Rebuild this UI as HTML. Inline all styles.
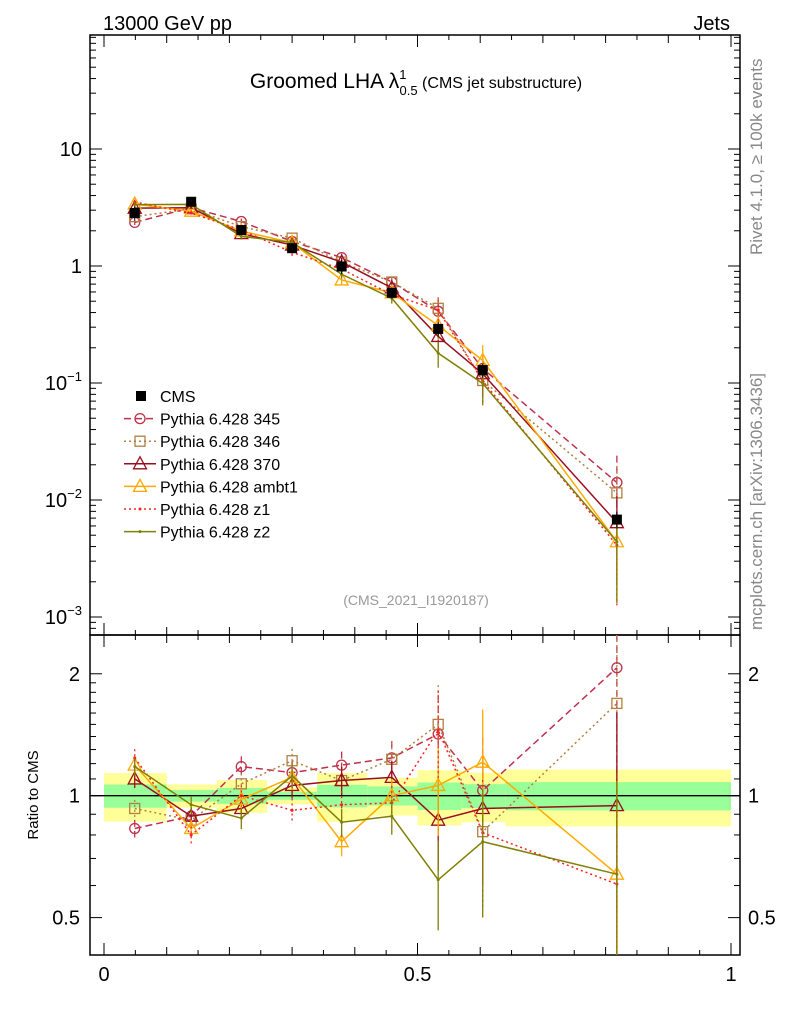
<!DOCTYPE html>
<html><head><meta charset="utf-8"><style>
body{margin:0;background:#fff;font-family:"Liberation Sans",sans-serif}
svg text{font-family:"Liberation Sans",sans-serif}
</style></head><body>
<svg id="c" width="786" height="1024" xmlns="http://www.w3.org/2000/svg">
<text x="103" y="30" font-size="20">13000 GeV pp</text>
<text x="730" y="30" font-size="20" text-anchor="end">Jets</text>
<text x="416" y="88" font-size="21" text-anchor="middle">Groomed LHA λ<tspan font-size="13" dy="-9">1</tspan><tspan font-size="13" dx="-7" dy="16">0.5</tspan><tspan font-size="16" dy="-7"> (CMS jet substructure)</tspan></text>
<text transform="translate(762,255) rotate(-90)" font-size="17" fill="#888">Rivet 4.1.0, ≥ 100k events</text>
<text transform="translate(762,630) rotate(-90)" font-size="17" fill="#888">mcplots.cern.ch [arXiv:1306.3436]</text>
<text x="416" y="605" font-size="14" fill="#999" text-anchor="middle">(CMS_2021_I1920187)</text>
<text transform="translate(38,795) rotate(-90)" font-size="15" text-anchor="middle">Ratio to CMS</text>
<g id="bands"></g><g id="axes"></g><g id="series"></g><g id="legend"></g>
</svg>
<script>
const xs=[0.049,0.139,0.219,0.300,0.379,0.459,0.533,0.604,0.818];
const edges=[0,0.1,0.18,0.26,0.34,0.42,0.5,0.57,0.64,1.0];
const cms=[2.84,3.54,2.03,1.42,0.99,0.59,0.29,0.129,0.0068];
const statErr=[0.066,0.033,0.045,0.023,0.064,0.054,0.078,0.068,0.08];
const totErr=[0.137,0.066,0.093,0.048,0.137,0.107,0.156,0.14,0.16];
const r345=[0.83,0.89,1.18,1.14,1.19,1.24,1.42,1.03,2.07];
const r346=[0.93,0.87,1.07,1.22,1.09,1.23,1.50,0.815,1.69];
const r370=[1.10,0.89,0.93,1.06,1.09,1.11,0.87,0.93,0.945];
const rambt1=[1.19,0.83,0.98,1.11,0.77,1.0,1.06,1.21,0.64];
const rz1=[1.24,0.80,1.0,0.92,0.95,0.96,1.45,0.81,0.605];
const rz2=[1.18,0.95,0.88,1.12,0.86,0.89,0.62,0.77,0.64];
const v345=[2.36,3.15,2.40,1.62,1.18,0.73,0.41,0.133,0.0141];
const v346=[2.64,3.08,2.17,1.73,1.08,0.73,0.435,0.105,0.0115];
const v370=[3.12,3.15,1.89,1.51,1.08,0.65,0.25,0.12,0.0064];
const vambt1=[3.38,2.94,1.99,1.58,0.76,0.59,0.31,0.156,0.0044];
const vz1=[3.52,2.83,2.03,1.31,0.94,0.57,0.42,0.104,0.0041];
const vz2=[3.35,3.36,1.79,1.59,0.85,0.53,0.18,0.099,0.0044];
const mcErr=[0.05,0.05,0.06,0.07,0.08,0.1,0.25,0.35,0.7];
const names=["Pythia 6.428 345","Pythia 6.428 346","Pythia 6.428 370","Pythia 6.428 ambt1","Pythia 6.428 z1","Pythia 6.428 z2"];

const NS="http://www.w3.org/2000/svg";
const L=90,R=740,T=35,M=635,B=955;
const X=v=>104+627*v;
const Y=v=>Math.min(M,266-117*Math.log10(v));
const YR=r=>Math.min(B,Math.max(M,795.7-405*Math.log10(r)));
function mk(tag,attrs,parent){const e=document.createElementNS(NS,tag);for(const k in attrs)e.setAttribute(k,attrs[k]);parent.appendChild(e);return e;}
const ax=document.getElementById('axes'),bd=document.getElementById('bands'),se=document.getElementById('series'),lg=document.getElementById('legend');

for(let i=0;i<9;i++){
  const x0=X(edges[i]),x1=Math.min(R,X(edges[i+1]));
  let e=mk('rect',{x:x0,y:YR(1+totErr[i]),width:x1-x0,height:YR(1-totErr[i])-YR(1+totErr[i]),fill:'#ffff99'},bd);
  
  
  e=mk('rect',{x:x0,y:YR(1+statErr[i]),width:x1-x0,height:YR(1-statErr[i])-YR(1+statErr[i]),fill:'#99ff99'},bd);
  
  
}
mk('line',{x1:L,x2:R,y1:YR(1),y2:YR(1),stroke:'#000','stroke-width':1.3},bd);

let f=mk('rect',{x:L,y:T,width:R-L,height:M-T,fill:'none',stroke:'#000','stroke-width':1.5},ax);


f=mk('rect',{x:L,y:M,width:R-L,height:B-M,fill:'none',stroke:'#000','stroke-width':1.5},ax);



const decades=[-3,-2,-1,0,1];
const decLabels=['10<tspan font-size="13" dy="-9">−3</tspan>','10<tspan font-size="13" dy="-9">−2</tspan>','10<tspan font-size="13" dy="-9">−1</tspan>','1','10'];
for(let d=-4;d<=1;d++){for(let m=1;m<10;m++){const v=m*Math.pow(10,d);const y=266-117*Math.log10(v);if(y<T||y>M)continue;const len=m==1?12:6;
 mk('line',{x1:L,x2:L+len,y1:y,y2:y,stroke:'#000'},ax);mk('line',{x1:R,x2:R-len,y1:y,y2:y,stroke:'#000'},ax);}}
decades.forEach((d,i)=>{const t=mk('text',{x:82,y:Y(Math.pow(10,d))+7,'font-size':20,'text-anchor':'end'},ax);t.innerHTML=decLabels[i];
 
 });
const rT=[0.5,0.6,0.7,0.8,0.9,1,1.1,1.2,1.3,1.4,1.5,1.6,1.7,1.8,1.9,2];
rT.forEach(r=>{const y=YR(r);const big=[0.5,1,2].includes(r);const len=big?12:6;
 mk('line',{x1:L,x2:L+len,y1:y,y2:y,stroke:'#000'},ax);mk('line',{x1:R,x2:R-len,y1:y,y2:y,stroke:'#000'},ax);
 if(big){const t=mk('text',{x:80,y:y+7,'font-size':20,'text-anchor':'end'},ax);t.textContent=r;
 
 
 const t2=mk('text',{x:748,y:y+7,'font-size':20},ax);t2.textContent=r;
 
 }});
for(let k=0;k<=20;k++){const v=k*0.05;const x=X(v);const len=k%10==0?12:(k%2==0?8:5);
 mk('line',{x1:x,x2:x,y1:B,y2:B-len,stroke:'#000'},ax);mk('line',{x1:x,x2:x,y1:M,y2:M+len,stroke:'#000'},ax);
 mk('line',{x1:x,x2:x,y1:M,y2:M-len,stroke:'#000'},ax);mk('line',{x1:x,x2:x,y1:T,y2:T+len,stroke:'#000'},ax);}
[['0',0],['0.5',0.5],['1',1]].forEach(([s,v])=>{const t=mk('text',{x:X(v),y:981,'font-size':20,'text-anchor':'middle'},ax);t.textContent=s;
 
 });

const styles=[
 {vals:v345,rat:r345,col:'#c0304a',dash:'7,4',mark:'circle',name:'pythia-345'},
 {vals:v346,rat:r346,col:'#b08040',dash:'2,3',mark:'square',name:'pythia-346'},
 {vals:v370,rat:r370,col:'#990e1f',dash:'',mark:'triangle',name:'pythia-370'},
 {vals:vambt1,rat:rambt1,col:'#ffaa00',dash:'',mark:'triangle',name:'pythia-ambt1'},
 {vals:vz1,rat:rz1,col:'#ff2020',dash:'2,3',mark:'dot',name:'pythia-z1'},
 {vals:vz2,rat:rz2,col:'#808000',dash:'',mark:'dot',name:'pythia-z2'}];
function marker(type,x,y,col,g){
 if(type=='circle')mk('circle',{cx:x,cy:y,r:5,fill:'none',stroke:col,'stroke-width':1.3},g);
 else if(type=='square')mk('rect',{x:x-5,y:y-5,width:10,height:10,fill:'none',stroke:col,'stroke-width':1.3},g);
 else if(type=='triangle')mk('polygon',{points:`${x},${y-7} ${x-6.5},${y+5} ${x+6.5},${y+5}`,fill:'none',stroke:col,'stroke-width':1.3},g);
 else if(type=='dot')mk('circle',{cx:x,cy:y,r:1.5,fill:col},g);
 else if(type=='sq')mk('rect',{x:x-5,y:y-5,width:10,height:10,fill:col},g);
}
styles.forEach((s,si)=>{
 const g=mk('g',{},se);
 
 
 const pts=s.vals.map((v,i)=>X(xs[i])+','+Y(v)).join(' ');
 mk('polyline',{points:pts,fill:'none',stroke:s.col,'stroke-width':1.5,'stroke-dasharray':s.dash},g);
 const rp=s.rat.map((r,i)=>X(xs[i])+','+YR(r)).join(' ');
 mk('polyline',{points:rp,fill:'none',stroke:s.col,'stroke-width':1.5,'stroke-dasharray':s.dash},g);
 s.vals.forEach((v,i)=>{const x=X(xs[i]);const e=mcErr[i];
  mk('line',{x1:x,x2:x,y1:Y(v*(1+e)),y2:Y(Math.max(v*(1-e),1e-4)),stroke:s.col,'stroke-width':1.3,'stroke-dasharray':s.dash},g);
  marker(s.mark,x,Y(v),s.col,g);
  const r=s.rat[i];
  mk('line',{x1:x,x2:x,y1:YR(r*(1+e)),y2:YR(Math.max(r*(1-e),0.3)),stroke:s.col,'stroke-width':1.3,'stroke-dasharray':s.dash},g);
  marker(s.mark,x,YR(r),s.col,g);});
});
const cg=mk('g',{},se);


cms.forEach((v,i)=>{const x=X(xs[i]);mk('line',{x1:x,x2:x,y1:Y(v*(1+totErr[i])),y2:Y(v*(1-totErr[i])),stroke:'#000'},cg);marker('sq',x,Y(v),'#000',cg);});

const ly0=396,dy=22.6;
let e=mk('g',{},lg);


marker('sq',141,ly0,'#000',e);
let t=mk('text',{x:160,y:ly0+6,'font-size':16},e);t.textContent='CMS';
styles.forEach((s,i)=>{const y=ly0+dy*(i+1);const g=mk('g',{},lg);
 
 
 mk('line',{x1:124,x2:156,y1:y,y2:y,stroke:s.col,'stroke-width':1.5,'stroke-dasharray':s.dash},g);
 marker(s.mark,140,y,s.col,g);
 const tt=mk('text',{x:160,y:y+6,'font-size':16},g);tt.textContent=names[i];});
</script>
</body></html>
